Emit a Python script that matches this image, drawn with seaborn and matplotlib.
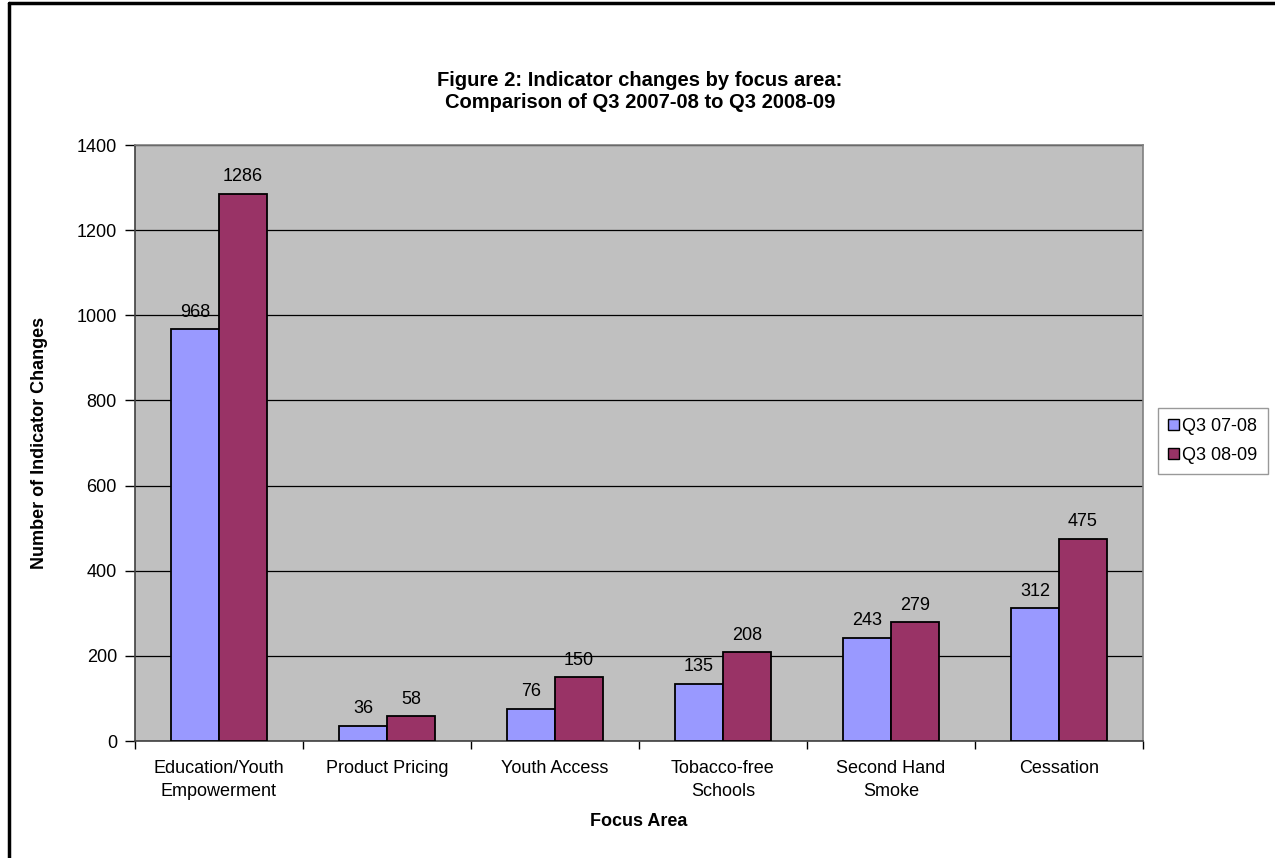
import matplotlib
matplotlib.use("Agg")
import matplotlib.pyplot as plt
from matplotlib.lines import Line2D
import seaborn as sns
import pandas as pd

# Indicator changes per focus area for the two comparison quarters
categories = ["Education/Youth\nEmpowerment", "Product Pricing", "Youth Access",
              "Tobacco-free\nSchools", "Second Hand\nSmoke", "Cessation"]
series_names = ["Q3 07-08", "Q3 08-09"]
q3_0708 = [968, 36, 76, 135, 243, 312]
q3_0809 = [1286, 58, 150, 208, 279, 475]
y_ticks = [0, 200, 400, 600, 800, 1000, 1200, 1400]

df = pd.DataFrame({
    "Focus Area": categories * 2,
    "Period": [series_names[0]] * len(categories) + [series_names[1]] * len(categories),
    "Value": q3_0708 + q3_0809,
})

sns.set_theme(style="white")
plt.rcParams["font.family"] = ["Liberation Sans", "DejaVu Sans"]
plt.rcParams["text.color"] = "black"
plt.rcParams["xtick.color"] = "black"
plt.rcParams["ytick.color"] = "black"

FS = 13

W, H = 1275, 858
fig = plt.figure(figsize=(W / 100, H / 100), dpi=100)
fig.patch.set_facecolor("white")
ax = fig.add_axes([135 / W, 1 - 741 / H, (1143 - 135) / W, (741 - 145) / H])
ax.set_facecolor("#C0C0C0")

sns.barplot(data=df, x="Focus Area", y="Value", hue="Period",
            order=categories, hue_order=series_names,
            palette=["#9999FF", "#993366"], saturation=1, width=0.57, gap=0,
            edgecolor="black", linewidth=1.3, ax=ax, legend=True, zorder=3)

for cont in ax.containers:
    ax.bar_label(cont, fmt="%d", padding=6, fontsize=FS, color="black")

ax.set_ylim(0, 1400)
ax.set_xlim(-0.5, len(categories) - 0.5)
ax.set_yticks(y_ticks)
ax.set_yticklabels([str(t) for t in y_ticks], fontsize=FS)
ax.yaxis.grid(True, color="black", linewidth=0.9, zorder=0)
ax.set_axisbelow(True)

# category labels centred under groups; ticks on group boundaries
ax.set_xticks(range(len(categories)))
ax.set_xticklabels(categories, fontsize=FS, linespacing=1.45)
ax.tick_params(axis="x", length=0, pad=14)
ax.set_xticks([i + 0.5 for i in range(-1, len(categories))], minor=True)
ax.tick_params(axis="x", which="minor", length=6, width=1, color="black", direction="out", bottom=True)
ax.tick_params(axis="y", length=7, width=1, color="black", direction="out", left=True, pad=6)
ax.set_xlabel("")
ax.set_ylabel("")

for side in ["top", "right"]:
    ax.spines[side].set_color("#808080")
    ax.spines[side].set_linewidth(1.2)
for side in ["left", "bottom"]:
    ax.spines[side].set_color("#404040")
    ax.spines[side].set_linewidth(1.2)

leg = ax.legend(loc="center left", bbox_to_anchor=(1158 / W, 1 - 441 / H),
                bbox_transform=fig.transFigure, fontsize=FS, frameon=True,
                fancybox=False, edgecolor="#808080", handlelength=0.6,
                handleheight=0.6, handletextpad=0.2, borderpad=0.55,
                borderaxespad=0, labelspacing=0.65)
leg.get_frame().set_linewidth(1.0)
leg._legend_box.sep = 0
for h in leg.legend_handles:
    h.set_edgecolor("black")
    h.set_linewidth(1.0)

fig.text(640 / W, 1 - 91 / H,
         "Figure 2: Indicator changes by focus area:\nComparison of Q3 2007-08 to Q3 2008-09",
         ha="center", va="center", fontsize=14.5, fontweight="bold", linespacing=1.2)
fig.text(40 / W, 1 - 443 / H, "Number of Indicator Changes", rotation=90,
         ha="center", va="center", fontsize=FS, fontweight="bold")
fig.text(639 / W, 1 - 822 / H, "Focus Area", ha="center", va="center",
         fontsize=FS, fontweight="bold")

# outer chart frame (top and left edges)
fig.add_artist(Line2D([9 / W, 1], [1 - 3 / H, 1 - 3 / H], transform=fig.transFigure,
                      color="black", linewidth=2.5))
fig.add_artist(Line2D([9 / W, 9 / W], [0, 1 - 3 / H], transform=fig.transFigure,
                      color="black", linewidth=2.5))

fig.savefig("out.png", dpi=100, facecolor="white")
